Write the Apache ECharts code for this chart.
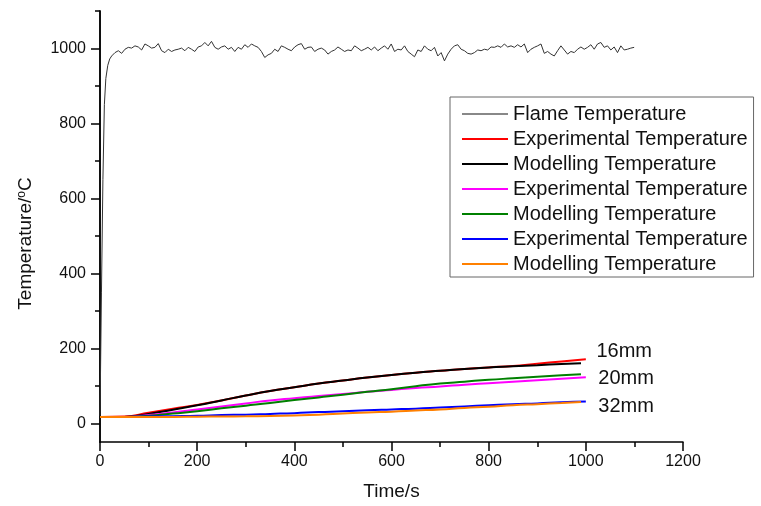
<!DOCTYPE html>
<html>
<head>
<meta charset="utf-8">
<script src="https://cdn.jsdelivr.net/npm/echarts@6/dist/echarts.min.js"></script>
<style>
  html, body { margin: 0; padding: 0; background: #fff; }
  #chart { width: 761px; height: 506px; }
</style>
</head>
<body>
<div id="chart"></div>
<script>
// lower curves, sampled every 50 s
const expTime = [0, 50, 100, 150, 200, 250, 300, 350, 400, 450, 500, 550, 600, 650, 700, 750, 800, 850, 900, 950, 1000]
const modTime = [0, 50, 100, 150, 200, 250, 300, 350, 400, 450, 500, 550, 600, 650, 700, 750, 800, 850, 900, 950, 990]

const exp16 = [17, 18, 28, 39, 49, 61, 74, 86, 96, 106, 114, 122, 129, 135, 140, 145, 149, 153, 159, 165, 171]
const mod16 = [17, 17, 25, 36, 48, 61, 74, 86, 96, 106, 114, 122, 129, 135, 140, 145, 149, 152, 155, 158, 160]
const exp20 = [17, 17, 22, 29, 37, 45, 53, 61, 67, 73, 78, 84, 89, 94, 98, 103, 107, 111, 115, 119, 123]
const mod20 = [17, 17, 20, 26, 32, 40, 47, 54, 62, 69, 76, 84, 91, 99, 106, 111, 116, 120, 124, 128, 131]
const exp32 = [17, 17, 18, 19, 20, 22, 23, 25, 27, 30, 32, 35, 37, 39, 42, 45, 48, 51, 53, 56, 58]
const mod32 = [17, 17, 17, 17, 17.5, 18, 18.5, 19.5, 21, 23, 26, 29, 31, 34, 37, 41, 44, 48, 51, 54, 57]

// flame: fast rise, then readings every ~6.85 s from t = 24 s to 1100 s
const riseTime = [0, 3, 6, 9, 12, 16, 20]
const riseTemp = [20, 350, 650, 850, 920, 955, 972]
const flameStart = 24
const flameStep = 6.85
const flameTemp = [
  980, 989, 994, 987, 998, 1003, 1001, 1007, 1004, 996,
  1012, 1007, 1001, 1003, 1013, 994, 989, 998, 992, 996,
  998, 1001, 994, 1003, 998, 992, 1004, 1007, 1016, 1007,
  1019, 1003, 998, 1004, 1007, 998, 1003, 992, 1003, 998,
  1010, 1003, 1012, 1007, 1003, 992, 976, 983, 987, 998,
  992, 1007, 1003,
  998, 994, 1004, 1010, 1013, 998, 1003, 1004, 992, 998,
  1001, 996, 985, 992, 996, 1004, 998, 992, 996, 994,
  1007, 1001, 994, 998, 1003, 996, 1004, 994, 1001, 1007,
  998, 1012, 992, 998, 996, 1007, 992, 985, 978, 996,
  992, 1007, 998, 994, 1003, 980, 989, 967, 985, 998,
  1007, 1010, 998, 994, 987, 985,
  989, 996, 994, 998, 996, 1004, 1003, 1007, 1003, 1012,
  1004, 1007, 1003, 1010, 1004, 1012, 989, 998, 1003, 1007,
  1012, 987, 992, 985, 980, 994, 1007, 996, 985, 992,
  989, 998, 1004, 998, 1003, 1010, 998, 1012, 1016, 1003,
  1007, 996, 1004, 989, 1007, 996, 998, 1001, 1003
]

const yMajor = [0, 200, 400, 600, 800, 1000]
const yMinor = [100, 300, 500, 700, 900, 1100]
const noteText = ['16mm', '20mm', '32mm']
const noteAt = [[1079, 191], [1083, 119], [1083, 45]]

const font = '"Liberation Sans", Arial, sans-serif'
const ink = '#111'

const zip = (xs, ys) => xs.map((x, i) => [x, ys[i]])
const flameData = zip(riseTime, riseTemp).concat(
  flameTemp.map((v, i) => [flameStart + i * flameStep, v])
)

const chart = echarts.init(document.getElementById('chart'))

const lineSeries = (name, color, data, width) => ({
  type: 'line',
  name,
  data,
  yAxisIndex: 0,
  symbol: 'none',
  smooth: name.indexOf('Flame') < 0,
  lineStyle: { color, width },
  itemStyle: { color },
  z: 3,
})

const note = (i) => ({
  silent: true,
  symbol: 'circle',
  symbolSize: 0,
  label: {
    show: true,
    position: 'inside',
    formatter: noteText[i],
    color: ink,
    fontFamily: font,
    fontSize: 20,
  },
  data: [{ coord: noteAt[i] }],
})

const s16 = lineSeries('Experimental Temperature (16mm)', '#ff0000', zip(expTime, exp16), 2)
s16.markPoint = note(0)
const s20 = lineSeries('Experimental Temperature (20mm)', '#ff00ff', zip(expTime, exp20), 2)
s20.markPoint = note(1)
const s32 = lineSeries('Experimental Temperature (32mm)', '#0000ff', zip(expTime, exp32), 2)
s32.markPoint = note(2)

const series = [
  lineSeries('Flame Temperature', '#333333', flameData, 1),
  s16,
  lineSeries('Modelling Temperature (16mm)', '#000000', zip(modTime, mod16), 2),
  s20,
  lineSeries('Modelling Temperature (20mm)', '#008000', zip(modTime, mod20), 2),
  s32,
  lineSeries('Modelling Temperature (32mm)', '#ff8000', zip(modTime, mod32), 2),
]

const option = {
  animation: false,
  backgroundColor: '#fff',
  textStyle: { fontFamily: font, color: ink },
  grid: { left: 100, right: 78, top: 11, bottom: 64, containLabel: false },
  legend: {
    orient: 'vertical',
    left: 450,
    top: 97,
    padding: [7, 6, 3, 12],
    icon: 'rect',
    itemWidth: 46,
    itemHeight: 2,
    itemGap: 5,
    borderColor: '#666',
    borderWidth: 1,
    borderRadius: 0,
    textStyle: { fontFamily: font, fontSize: 20, color: ink, lineHeight: 20 },
    formatter: (name) => name.replace(/ \(.*\)$/, ''),
    data: series.map((s) => (s.name === 'Flame Temperature'
      ? { name: s.name, itemStyle: { color: '#888' } }
      : { name: s.name })),
  },
  xAxis: {
    type: 'value',
    min: 0,
    max: 1200,
    interval: 200,
    name: 'Time/s',
    nameLocation: 'middle',
    nameGap: 40,
    nameTextStyle: { fontFamily: font, fontSize: 19, color: ink },
    axisLine: { show: true, onZero: false, lineStyle: { color: '#000', width: 1.5 } },
    axisTick: { show: true, length: 9, lineStyle: { color: '#000', width: 1.5 } },
    minorTick: { show: true, splitNumber: 2, length: 5, lineStyle: { color: '#000', width: 1.5 } },
    axisLabel: { fontFamily: font, fontSize: 16, color: ink, margin: 12, formatter: (v) => String(v) },
    splitLine: { show: false },
  },
  yAxis: [
    {
      type: 'value',
      min: -50,
      max: 1100,
      name: 'Temperature/{sup|o}C',
      nameLocation: 'middle',
      nameRotate: 90,
      nameGap: 64,
      nameTextStyle: {
        fontFamily: font,
        fontSize: 19,
        color: ink,
        padding: [0, 34, 0, 0],
        rich: { sup: { fontSize: 12, verticalAlign: 'top', padding: [0, 0, 8, 0], fontFamily: font, color: ink } },
      },
      axisLine: { show: true, onZero: false, lineStyle: { color: '#000', width: 1.5 } },
      axisTick: { show: true, length: 9, customValues: yMajor, lineStyle: { color: '#000', width: 1.5 } },
      axisLabel: { fontFamily: font, fontSize: 16, color: ink, margin: 14, customValues: yMajor, formatter: (v) => String(v) },
      splitLine: { show: false },
    },
    {
      type: 'value',
      min: -50,
      max: 1100,
      position: 'left',
      axisLine: { show: true, onZero: false, lineStyle: { color: '#000', width: 1.5 } },
      axisTick: { show: true, length: 5, customValues: yMinor, lineStyle: { color: '#000', width: 1.5 } },
      axisLabel: { show: false },
      splitLine: { show: false },
    },
  ],
  series,
}

chart.setOption(option)
</script>
</body>
</html>
